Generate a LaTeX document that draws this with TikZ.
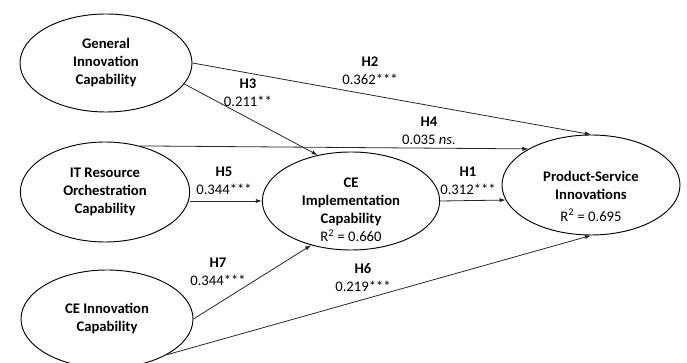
\documentclass[tikz,border=0pt]{standalone}
\usepackage{fontspec}
\setmainfont{Carlito}
\usetikzlibrary{arrows.meta,shapes.geometric}

\begin{document}
\begin{tikzpicture}[x=0.75pt,y=-0.75pt,>={Latex[length=4.5pt,width=3.2pt]},
 every node/.style={font=\fontsize{11}{13.5}\selectfont},
 construct/.style={draw,line width=0.7pt,ellipse,inner sep=0pt,align=center,
 font=\fontsize{11}{13.5}\selectfont\bfseries,minimum width=129pt,minimum height=73.5pt},
 inside/.style={align=center,inner sep=0pt,font=\fontsize{11}{13.5}\selectfont\bfseries},
 link/.style={->,line width=0.6pt,black!85},
 coef/.style={align=center,inner sep=1pt}]
\useasboundingbox (0,0) rectangle (687,363);
% constructs
\node[construct] (gen) at (106,63) {General\\Innovation\\Capability};
\node[construct,minimum width=127pt,minimum height=75pt] (it) at (105,192) {IT Resource\\Orchestration\\Capability};
\node[construct] (cein) at (107,319) {CE Innovation\\Capability};
\node[construct,minimum width=133pt] (cei) at (351,201) {};
\node[inside] (ceitext) at (351,210) {CE\\Implementation\\Capability\\\mdseries R\textsuperscript{2} = 0.660};
\node[construct,minimum width=133.5pt,minimum height=75pt] (prod) at (591,185) {};
\node[inside] (prodtext) at (591,196) {Product-Service\\Innovations\\[3pt]\mdseries R\textsuperscript{2} = 0.695};
% paths
\draw[link] (gen.east) -- (prod.north);
\draw[link] (gen.345) -- (cei.126);
\draw[link] (it.53) -- (prod.150);
\draw[link] (it.east |- cei.west) -- (cei.west);
\draw[link] (cei.east) -- (prod.190);
\draw[link] (cein.east) -- (cei.228);
\draw[link] (cein.329) -- (prod.south);
% coefficients
\node[coef] (h2) at (370,71) {\textbf{H2}\\0.362***};
\node[coef] (h3) at (248,93) {\textbf{H3}\\0.211**};
\node[coef] (h4) at (429,131) {\textbf{H4}\\0.035 \textit{ns.}};
\node[coef] (h5) at (224,181) {\textbf{H5}\\0.344***};
\node[coef] (h1) at (468,181) {\textbf{H1}\\0.312***};
\node[coef] (h7) at (218,272) {\textbf{H7}\\0.344***};
\node[coef] (h6) at (363,278) {\textbf{H6}\\0.219***};
\end{tikzpicture}
\end{document}
